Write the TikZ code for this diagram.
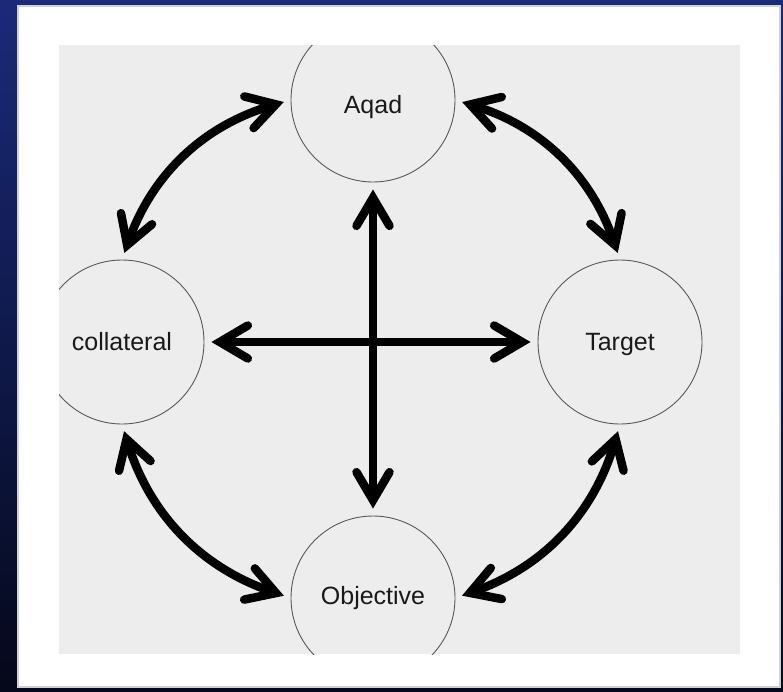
\documentclass[tikz,border=0pt]{standalone}
\usepackage{fontspec}
\setmainfont{Liberation Sans}
\usepackage{tikz}
\usetikzlibrary{arrows.meta}

\definecolor{bgblue}{RGB}{26,42,122}
\definecolor{bgdark}{RGB}{4,8,26}
\definecolor{panelgrey}{RGB}{237,237,237}

\begin{document}
\begin{tikzpicture}[x=1pt, y=-1pt,
    concept/.style={circle, draw=black!65, line width=0.9pt, minimum size=164pt,
      inner sep=0pt, text=black!90, font=\fontsize{25}{30}\selectfont,
      text height=22pt, text depth=5pt},
    barb/.tip={Straight Barb[length=28pt, width=33pt, line cap=round, line join=miter]},
    link/.style={line width=8.5pt, barb-barb, shorten <=7pt, shorten >=7pt}]
    \useasboundingbox (0,0) rectangle (783,691);

    % frame and panel
    \shade[top color=bgblue, bottom color=bgdark] (0,0) rectangle (783,691);
    \fill[white] (17,5) rectangle (781,688);
    \draw[black!18, line width=1.5pt] (18,6) rectangle (780,687);
    \fill[panelgrey] (59,45) rectangle (740,654);

    \begin{scope}
      \clip (59,45) rectangle (740,654);
      \node[concept, text height=32pt](aqad) at (373,100) {Aqad};
      \node[concept](collateral) at (122,342) {collateral};
      \node[concept](target)     at (620,342) {Target};
      \node[concept, text height=18pt](objective) at (373,598) {Objective};
    \end{scope}

    \draw[link] (collateral) -- (target);
    \draw[link] (aqad) -- (objective);

    \draw[link] (collateral.north) to[bend left=27] (aqad.west);
    \draw[link] (aqad.east)        to[bend left=27] (target.north);
    \draw[link] (target.south)     to[bend left=27] (objective.east);
    \draw[link] (objective.west)   to[bend left=27] (collateral.south);
  \end{tikzpicture}
\end{document}
